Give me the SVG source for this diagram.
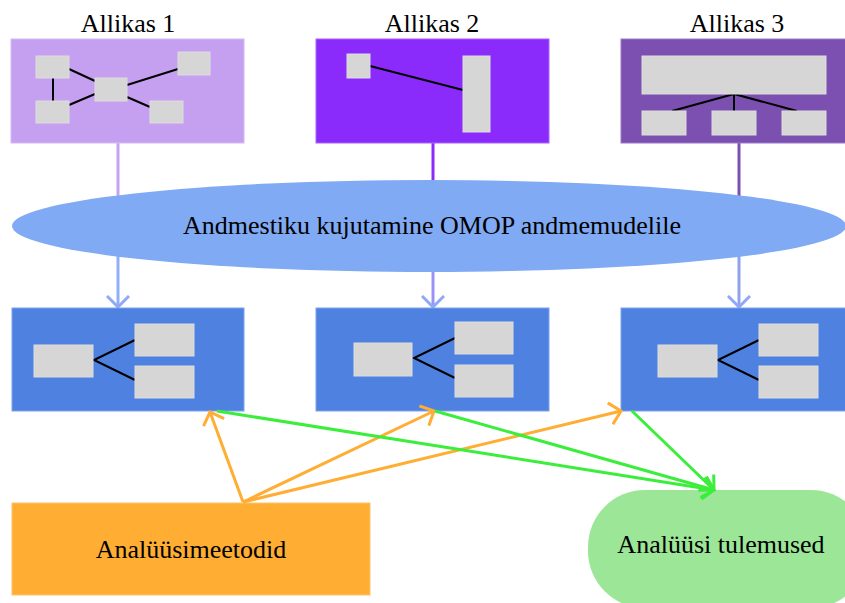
<svg xmlns="http://www.w3.org/2000/svg" width="845" height="603" viewBox="0 0 845 603">
<style>
text{font-family:"Liberation Serif","Times New Roman",serif;font-size:26px;fill:#000;text-anchor:middle}
.g{fill:#d6d6d6;stroke:#dcdcdc;stroke-width:1}
.ln{stroke:#000;stroke-width:2;fill:none}
.tb{fill:#4f82e0;stroke:#7ea2ea;stroke-width:1}
.c{fill:none;stroke-width:3}
</style>
<defs>
<marker id="mb" viewBox="0 0 14 24" refX="12" refY="12" markerWidth="14" markerHeight="24" markerUnits="userSpaceOnUse" orient="auto"><path d="M1,1 L12,12 L1,23" fill="none" stroke="#8fa9f5" stroke-width="3"/></marker>
<marker id="mo" viewBox="0 0 14 24" refX="12" refY="12" markerWidth="14" markerHeight="24" markerUnits="userSpaceOnUse" orient="auto"><path d="M1,1 L12,12 L1,23" fill="none" stroke="#ffad33" stroke-width="3"/></marker>
<marker id="mg" viewBox="0 0 14 24" refX="12" refY="12" markerWidth="14" markerHeight="24" markerUnits="userSpaceOnUse" orient="auto"><path d="M1,1 L12,12 L1,23" fill="none" stroke="#3bee3b" stroke-width="3"/></marker>
</defs>
<g id="connectors-top">
<line class="c" x1="118" y1="143" x2="118" y2="200" stroke="#c6a2f2"/>
<line class="c" x1="433" y1="143" x2="433" y2="200" stroke="#8a2bfa"/>
<line class="c" x1="739" y1="143" x2="739" y2="200" stroke="#7b4fb3"/>
<line class="c" x1="118" y1="250" x2="118" y2="307" stroke="#8fb0f8" marker-end="url(#mb)"/>
<line class="c" x1="433" y1="250" x2="433" y2="307" stroke="#9a92f6" marker-end="url(#mb)"/>
<line class="c" x1="739" y1="250" x2="739" y2="307" stroke="#8fa2f0" marker-end="url(#mb)"/>
</g>
<g id="source1">
<rect x="11" y="39" width="233" height="104" fill="#c5a0f0" stroke="#d3b8f5"/>
<text x="128" y="32">Allikas 1</text>
<path class="ln" d="M53,78 V101 M69,69 L95,81 M69,105 L95,94 M127,85 L178,69 M127,97 L150,107"/>
<rect class="g" x="36" y="56" width="33" height="22"/>
<rect class="g" x="36" y="101" width="33" height="22"/>
<rect class="g" x="95" y="78" width="32" height="23"/>
<rect class="g" x="178" y="52" width="32" height="23"/>
<rect class="g" x="150" y="101" width="33" height="22"/>
</g>
<g id="source2">
<rect x="316" y="39" width="233" height="104" fill="#8a2bfb" stroke="#a665fb"/>
<text x="432" y="32">Allikas 2</text>
<path class="ln" d="M370,66 L463,90"/>
<rect class="g" x="347" y="54" width="23" height="24"/>
<rect class="g" x="463" y="56" width="27" height="76"/>
</g>
<g id="source3">
<rect x="621" y="39" width="240" height="104" fill="#7b50b0" stroke="#9a7bc8"/>
<text x="737" y="32">Allikas 3</text>
<path class="ln" d="M734,94 L672,111 M734,94 V111 M734,94 L797,111"/>
<rect class="g" x="642" y="56" width="184" height="38"/>
<rect class="g" x="642" y="111" width="44" height="24"/>
<rect class="g" x="712" y="111" width="44" height="24"/>
<rect class="g" x="782" y="111" width="44" height="24"/>
</g>
<g id="mapping">
<ellipse cx="429" cy="226" rx="417" ry="46" fill="#80aaf3"/>
<text x="432" y="234">Andmestiku kujutamine OMOP andmemudelile</text>
</g>
<g id="target1">
<rect class="tb" x="12" y="308" width="232" height="103"/>
<path class="ln" d="M135,340 L94,360 L135,380"/>
<rect class="g" x="34" y="345" width="59" height="32"/>
<rect class="g" x="135" y="324" width="59" height="32"/>
<rect class="g" x="135" y="366" width="59" height="32"/>
</g>
<g id="target2">
<rect class="tb" x="316" y="308" width="233" height="103"/>
<path class="ln" d="M455,338 L414,358 L455,378"/>
<rect class="g" x="354" y="343" width="58" height="33"/>
<rect class="g" x="455" y="322" width="58" height="32"/>
<rect class="g" x="455" y="365" width="58" height="32"/>
</g>
<g id="target3">
<rect class="tb" x="621" y="308" width="240" height="103"/>
<path class="ln" d="M759,340 L718,360 L759,380"/>
<rect class="g" x="658" y="345" width="59" height="32"/>
<rect class="g" x="759" y="324" width="59" height="32"/>
<rect class="g" x="759" y="366" width="59" height="32"/>
</g>
<g id="methods">
<rect x="12" y="503" width="358" height="92" fill="#ffad33" stroke="#ffc46e"/>
<text x="191" y="558">Analüüsimeetodid</text>
</g>
<g id="results">
<rect x="588" y="490" width="280" height="118" rx="57" ry="57" fill="#9be697"/>
<text x="721" y="553">Analüüsi tulemused</text>
</g>
<g id="connectors-bottom">
<line class="c" x1="243" y1="502" x2="210" y2="412" stroke="#ffad33" marker-end="url(#mo)"/>
<line class="c" x1="243" y1="502" x2="434" y2="411" stroke="#ffad33" marker-end="url(#mo)"/>
<line class="c" x1="243" y1="502" x2="621" y2="411" stroke="#ffad33" marker-end="url(#mo)"/>
<line class="c" x1="217" y1="411" x2="714" y2="490" stroke="#3bee3b" marker-end="url(#mg)"/>
<line class="c" x1="435" y1="411" x2="714" y2="490" stroke="#3bee3b" marker-end="url(#mg)"/>
<line class="c" x1="632" y1="411" x2="714" y2="490" stroke="#3bee3b" marker-end="url(#mg)"/>
</g>
</svg>
